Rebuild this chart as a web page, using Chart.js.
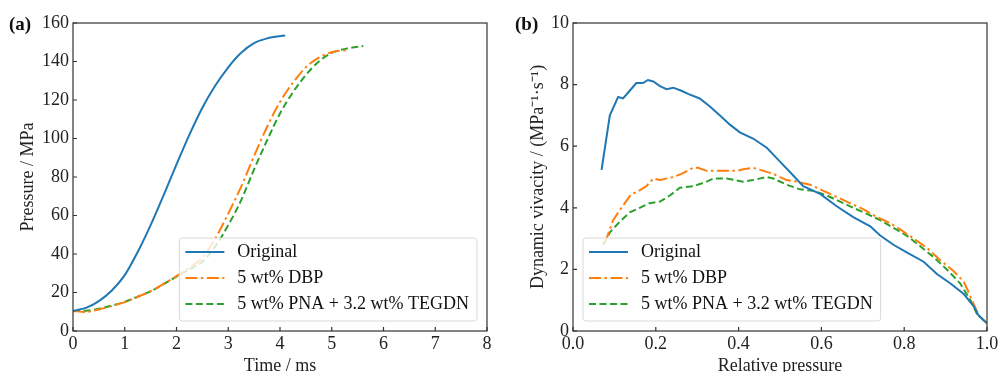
<!DOCTYPE html>
<html>
<head>
<meta charset="utf-8">
<script src="https://cdn.jsdelivr.net/npm/chart.js@4.4.1/dist/chart.umd.min.js"></script>
<style>
  body { margin: 0; background: #fff; }
  .panel { position: absolute; top: 0; }
</style>
</head>
<body>
<div class="panel" style="left:0"><canvas id="chartA" width="500" height="372"></canvas></div>
<div class="panel" style="left:500px"><canvas id="chartB" width="499" height="372"></canvas></div>
<script>
//// PRESSURE / VIVACITY CURVES

const seriesNames = ['Original', '5 wt% DBP', '5 wt% PNA + 3.2 wt% TEGDN'];

// (a) pressure vs time
const timeOriginal = [0, 0.25, 0.5, 0.75, 1.0, 1.25, 1.5, 1.75, 2.0, 2.25, 2.5, 2.75, 3.0, 3.25, 3.5, 3.75, 4.1];
const pressureOriginal = [10.4, 12, 15.5, 21, 29, 41, 55, 70.5, 86.5, 102, 116, 127.5, 137, 144.5, 149.5, 152, 153.5];
const timeDBP = [0, 0.25, 0.5, 0.75, 1.0, 1.25, 1.5, 1.75, 2.0, 2.25, 2.5, 2.75, 3.0, 3.25, 3.5, 3.75, 4.0, 4.25, 4.5, 4.75, 5.0, 5.3];
const pressureDBP = [10.4, 9.9, 11.2, 13, 15, 17.8, 20.6, 24.5, 28.5, 33, 38, 48, 61, 75, 91, 106, 119, 129, 137, 142, 144.8, 146];
const timePNA = [0, 0.25, 0.5, 0.75, 1.0, 1.25, 1.5, 1.75, 2.0, 2.25, 2.5, 2.75, 3.0, 3.25, 3.5, 3.75, 4.0, 4.25, 4.5, 4.75, 5.0, 5.3, 5.61];
const pressurePNA = [10.4, 10.5, 11.6, 13.2, 15.1, 17.8, 20.6, 24.3, 28.3, 32, 36, 44, 55, 68, 84, 99, 113, 124, 133, 140, 144.5, 146.8, 148];

// (b) dynamic vivacity vs relative pressure
const relOriginal = [0.069, 0.089, 0.109, 0.121, 0.137, 0.153, 0.169, 0.181, 0.194, 0.21, 0.226, 0.242, 0.262, 0.278, 0.306, 0.33, 0.355, 0.379, 0.403, 0.435, 0.468, 0.5, 0.532, 0.556, 0.597, 0.637, 0.677, 0.718, 0.742, 0.774, 0.806, 0.847, 0.879, 0.911, 0.944, 0.968, 0.98, 1.0];
const vivOriginal = [5.23, 7.0, 7.6, 7.55, 7.8, 8.05, 8.05, 8.15, 8.1, 7.95, 7.85, 7.9, 7.8, 7.7, 7.55, 7.3, 7.0, 6.7, 6.45, 6.25, 5.95, 5.5, 5.05, 4.7, 4.45, 4.05, 3.7, 3.4, 3.1, 2.8, 2.55, 2.25, 1.85, 1.55, 1.2, 0.8, 0.5, 0.25];
const relDBP = [0.077, 0.097, 0.117, 0.141, 0.153, 0.177, 0.194, 0.21, 0.242, 0.262, 0.29, 0.302, 0.323, 0.363, 0.395, 0.411, 0.435, 0.46, 0.484, 0.516, 0.54, 0.573, 0.605, 0.637, 0.669, 0.702, 0.734, 0.766, 0.79, 0.823, 0.855, 0.887, 0.919, 0.944, 0.964, 0.98, 1.0];
const vivDBP = [2.85, 3.6, 4.0, 4.45, 4.5, 4.7, 4.95, 4.9, 5.0, 5.1, 5.3, 5.3, 5.2, 5.2, 5.2, 5.25, 5.3, 5.2, 5.1, 4.9, 4.85, 4.75, 4.55, 4.35, 4.15, 3.95, 3.7, 3.5, 3.3, 3.0, 2.7, 2.3, 1.95, 1.6, 1.0, 0.5, 0.25];
const relPNA = [0.073, 0.089, 0.113, 0.137, 0.161, 0.185, 0.21, 0.234, 0.258, 0.29, 0.323, 0.339, 0.371, 0.411, 0.435, 0.468, 0.484, 0.516, 0.548, 0.581, 0.613, 0.645, 0.677, 0.71, 0.742, 0.774, 0.806, 0.839, 0.871, 0.903, 0.935, 0.96, 0.976, 1.0];
const vivPNA = [2.8, 3.2, 3.55, 3.85, 4.0, 4.15, 4.2, 4.4, 4.65, 4.7, 4.85, 4.95, 4.95, 4.85, 4.9, 5.0, 4.95, 4.75, 4.6, 4.55, 4.4, 4.2, 4.0, 3.8, 3.6, 3.35, 3.1, 2.75, 2.4, 2.0, 1.55, 1.0, 0.55, 0.25];

const timeTicks = [0, 8, 1];
const pressureTicks = [0, 160, 20];
const relTicks = [0, 1, 0.2];
const vivTicks = [0, 10, 2];

const FONT = '"Liberation Serif", "Times New Roman", serif';
const colors = ['#1f77b4', '#ff7f0e', '#2ca02c'];
const dashes = [[], [12, 3.5, 2.5, 3.5], [7, 3.5]];

function points(xs, ys) {
    return xs.map((x, i) => ({ x: x, y: ys[i] }));
}

function makeDatasets(pairs, smooth) {
    return pairs.map((p, i) => ({
        label: seriesNames[i],
        data: points(p[0], p[1]),
        borderColor: colors[i],
        borderDash: dashes[i],
        borderWidth: 2,
        pointRadius: 0,
        fill: false,
        cubicInterpolationMode: smooth ? 'monotone' : 'default',
        tension: smooth ? 0.4 : 0
    }));
}

// box frame + inward tick marks
const framePlugin = {
    id: 'frame',
    afterDraw(chart) {
        const { ctx, chartArea: a, scales: { x, y } } = chart;
        ctx.save();
        ctx.strokeStyle = '#333';
        ctx.lineWidth = 1.2;
        ctx.strokeRect(a.left, a.top, a.width, a.height);
        ctx.beginPath();
        x.ticks.forEach((t, i) => {
            const px = x.getPixelForTick(i);
            ctx.moveTo(px, a.bottom);
            ctx.lineTo(px, a.bottom - 4);
        });
        y.ticks.forEach((t, i) => {
            const py = y.getPixelForTick(i);
            ctx.moveTo(a.left, py);
            ctx.lineTo(a.left + 4, py);
        });
        ctx.stroke();
        ctx.restore();
    }
};

// matplotlib style legend inside the axes
const boxLegendPlugin = {
    id: 'boxLegend',
    afterDraw(chart, args, opts) {
        const { ctx, chartArea: a } = chart;
        const sets = chart.data.datasets;
        ctx.save();
        ctx.font = '18px ' + FONT;
        const textW = Math.max(...sets.map(d => ctx.measureText(d.label).width));
        const w = 6 + 39 + 13 + textW + 8;
        const h = 83;
        const bx = opts.corner === 'lower right' ? a.right - 10 - w : a.left + 10;
        const by = a.bottom - 10 - h;
        ctx.beginPath();
        ctx.roundRect(bx, by, w, h, 3);
        ctx.fillStyle = 'rgba(255,255,255,0.8)';
        ctx.fill();
        ctx.strokeStyle = '#d9d9d9';
        ctx.lineWidth = 1;
        ctx.stroke();
        sets.forEach((d, i) => {
            const cy = by + 14 + i * 26;
            ctx.beginPath();
            ctx.setLineDash(d.borderDash);
            ctx.strokeStyle = d.borderColor;
            ctx.lineWidth = d.borderWidth;
            ctx.moveTo(bx + 6, cy);
            ctx.lineTo(bx + 45, cy);
            ctx.stroke();
            ctx.setLineDash([]);
            ctx.fillStyle = '#111';
            ctx.textBaseline = 'middle';
            ctx.textAlign = 'left';
            ctx.fillText(d.label, bx + 58, cy);
        });
        ctx.restore();
    }
};

const panelLabelPlugin = {
    id: 'panelLabel',
    afterDraw(chart, args, opts) {
        const ctx = chart.ctx;
        ctx.save();
        ctx.font = 'bold 19px ' + FONT;
        ctx.fillStyle = '#111';
        ctx.textBaseline = 'alphabetic';
        ctx.fillText(opts.text, opts.x, 30);
        ctx.restore();
    }
};

function axis(range, title, titlePad, isX, fmt) {
    return {
        type: 'linear',
        min: range[0],
        max: range[1],
        grid: { display: false, drawTicks: false },
        border: { display: false },
        ticks: {
            stepSize: range[2],
            padding: isX ? 2 : 4,
            color: '#222',
            font: { family: FONT, size: 18 },
            callback: fmt || (v => v)
        },
        title: {
            display: true,
            text: title,
            color: '#222',
            font: { family: FONT, size: 18 },
            padding: titlePad
        },
        afterFit(scale) {
            if (isX) {
                scale.height = 41;
                scale.paddingLeft = 0;
                scale.paddingRight = 0;
            } else {
                scale.width = 73;
                scale.paddingTop = 0;
                scale.paddingBottom = 0;
            }
        }
    };
}

function createChart(canvas, datasets, scales, corner, label, rightPad) {
    return new Chart(canvas, {
        type: 'line',
        data: { datasets: datasets },
        options: {
            responsive: false,
            animation: false,
            layout: { padding: { left: 0, top: 23, right: rightPad, bottom: 0 } },
            scales: scales,
            plugins: {
                legend: { display: false },
                tooltip: { enabled: false },
                boxLegend: { corner: corner },
                panelLabel: label
            }
        },
        plugins: [framePlugin, boxLegendPlugin, panelLabelPlugin]
    });
}

createChart(
    document.getElementById('chartA'),
    makeDatasets([[timeOriginal, pressureOriginal], [timeDBP, pressureDBP], [timePNA, pressurePNA]], true),
    {
        x: axis(timeTicks, 'Time / ms', { top: 0, bottom: -5 }, true),
        y: axis(pressureTicks, 'Pressure / MPa', { top: 17, bottom: 0 }, false)
    },
    'lower right', { text: '(a)', x: 9 }, 13
);

createChart(
    document.getElementById('chartB'),
    makeDatasets([[relOriginal, vivOriginal], [relDBP, vivDBP], [relPNA, vivPNA]], false),
    {
        x: axis(relTicks, 'Relative pressure', { top: 0, bottom: -5 }, true, v => v.toFixed(1)),
        y: axis(vivTicks, 'Dynamic vivacity / (MPa\u207B\u00B9\u00B7s\u207B\u00B9)', { top: 27, bottom: 0 }, false)
    },
    'lower left', { text: '(b)', x: 15 }, 12
);
</script>
</body>
</html>
